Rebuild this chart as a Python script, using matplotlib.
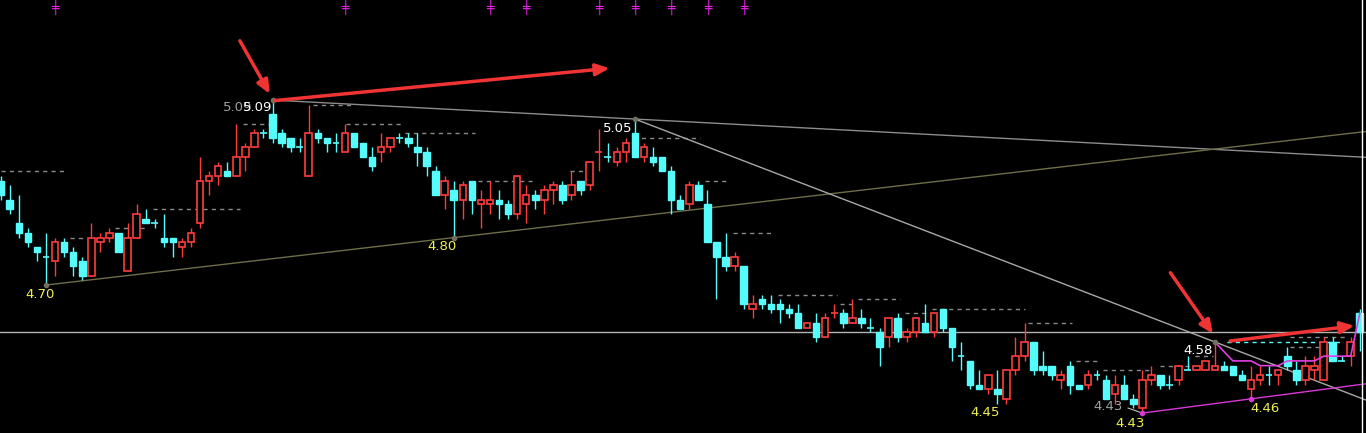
import numpy as np
import matplotlib
matplotlib.use('Agg')
import matplotlib.pyplot as plt
from matplotlib.patches import Rectangle

# daily candles (index 0 = leftmost, partly cut)
opens = [4.92, 4.88, 4.83, 4.81, 4.78, 4.76, 4.75, 4.79, 4.77, 4.75,
         4.72, 4.79, 4.80, 4.81, 4.73, 4.80, 4.84, 4.83, 4.80, 4.80,
         4.78, 4.79, 4.83, 4.92, 4.93, 4.94, 4.93, 4.97, 4.99, 5.02,
         5.06, 5.02, 5.01, 4.99, 4.93, 5.02, 5.01, 5.00, 4.98, 5.02,
         5.00, 4.97, 4.98, 4.99, 5.01, 5.01, 4.99, 4.98, 4.94, 4.89,
         4.90, 4.88, 4.92, 4.87, 4.87, 4.88, 4.87, 4.85, 4.87, 4.89,
         4.88, 4.90, 4.91, 4.89, 4.92, 4.91, 4.98, 4.97, 4.96, 4.98,
         5.02, 4.97, 4.97, 4.97, 4.94, 4.88, 4.87, 4.91, 4.87, 4.79,
         4.76, 4.74, 4.74, 4.65, 4.67, 4.66, 4.66, 4.65, 4.64, 4.61,
         4.62, 4.59, 4.64, 4.64, 4.62, 4.63, 4.61, 4.60, 4.59, 4.63,
         4.59, 4.60, 4.62, 4.60, 4.65, 4.61, 4.55, 4.54, 4.49, 4.48,
         4.48, 4.46, 4.52, 4.55, 4.58, 4.53, 4.53, 4.50, 4.53, 4.49,
         4.49, 4.51, 4.50, 4.47, 4.49, 4.46, 4.44, 4.50, 4.51, 4.49,
         4.50, 4.52, 4.52, 4.52, 4.52, 4.53, 4.53, 4.51, 4.48, 4.50,
         4.51, 4.51, 4.55, 4.52, 4.50, 4.52, 4.50, 4.58, 4.54, 4.55,
         4.64]
highs = [4.93, 4.91, 4.89, 4.82, 4.78, 4.81, 4.80, 4.80, 4.78, 4.76,
         4.83, 4.81, 4.82, 4.81, 4.83, 4.87, 4.86, 4.84, 4.85, 4.80,
         4.80, 4.82, 4.97, 4.94, 4.96, 4.96, 5.04, 5.00, 5.03, 5.03,
         5.09, 5.03, 5.01, 5.01, 5.08, 5.03, 5.01, 5.02, 5.04, 5.02,
         5.00, 4.99, 5.02, 5.01, 5.02, 5.02, 5.02, 4.99, 4.95, 4.93,
         4.92, 4.92, 4.92, 4.90, 4.92, 4.90, 4.88, 4.93, 4.91, 4.90,
         4.91, 4.92, 4.92, 4.94, 4.92, 4.96, 5.03, 5.00, 4.99, 5.01,
         5.05, 5.00, 4.99, 4.97, 4.95, 4.89, 4.92, 4.92, 4.90, 4.79,
         4.81, 4.77, 4.74, 4.68, 4.68, 4.68, 4.67, 4.66, 4.66, 4.62,
         4.64, 4.64, 4.66, 4.65, 4.67, 4.65, 4.63, 4.61, 4.63, 4.64,
         4.61, 4.63, 4.66, 4.64, 4.65, 4.61, 4.58, 4.54, 4.52, 4.51,
         4.52, 4.52, 4.59, 4.62, 4.58, 4.56, 4.53, 4.52, 4.54, 4.49,
         4.52, 4.52, 4.51, 4.51, 4.51, 4.47, 4.52, 4.53, 4.51, 4.51,
         4.53, 4.55, 4.53, 4.54, 4.58, 4.54, 4.53, 4.52, 4.53, 4.53,
         4.53, 4.52, 4.57, 4.54, 4.55, 4.55, 4.59, 4.59, 4.55, 4.59,
         4.65]
lows = [4.88, 4.85, 4.80, 4.78, 4.75, 4.70, 4.72, 4.76, 4.72, 4.71,
        4.72, 4.77, 4.79, 4.77, 4.73, 4.80, 4.83, 4.82, 4.78, 4.76,
        4.76, 4.78, 4.82, 4.89, 4.91, 4.93, 4.93, 4.94, 4.99, 5.01,
        5.00, 4.99, 4.98, 4.98, 4.93, 5.00, 4.98, 4.98, 4.98, 4.99,
        4.97, 4.94, 4.96, 4.98, 5.00, 4.99, 4.95, 4.93, 4.89, 4.86,
        4.80, 4.84, 4.85, 4.82, 4.85, 4.84, 4.84, 4.84, 4.83, 4.86,
        4.85, 4.87, 4.87, 4.88, 4.89, 4.90, 4.94, 4.96, 4.95, 4.96,
        4.97, 4.96, 4.95, 4.94, 4.85, 4.86, 4.86, 4.88, 4.79, 4.67,
        4.73, 4.73, 4.65, 4.63, 4.65, 4.64, 4.62, 4.63, 4.61, 4.61,
        4.58, 4.59, 4.63, 4.61, 4.62, 4.61, 4.60, 4.53, 4.57, 4.58,
        4.58, 4.59, 4.60, 4.59, 4.60, 4.54, 4.52, 4.48, 4.48, 4.47,
        4.45, 4.45, 4.51, 4.54, 4.51, 4.51, 4.50, 4.48, 4.47, 4.48,
        4.48, 4.50, 4.46, 4.45, 4.46, 4.44, 4.43, 4.49, 4.48, 4.48,
        4.49, 4.52, 4.52, 4.52, 4.52, 4.52, 4.51, 4.50, 4.46, 4.49,
        4.49, 4.49, 4.52, 4.49, 4.49, 4.50, 4.50, 4.54, 4.54, 4.53,
        4.56]
closes = [4.89, 4.86, 4.81, 4.79, 4.77, 4.76, 4.79, 4.77, 4.74, 4.72,
          4.80, 4.80, 4.81, 4.77, 4.80, 4.85, 4.83, 4.83, 4.79, 4.79,
          4.79, 4.81, 4.92, 4.93, 4.95, 4.93, 4.97, 4.99, 5.02, 5.02,
          5.01, 5.00, 4.99, 4.99, 5.02, 5.01, 5.00, 5.00, 5.02, 4.99,
          4.97, 4.95, 4.99, 5.01, 5.01, 5.00, 4.98, 4.95, 4.89, 4.92,
          4.88, 4.91, 4.88, 4.88, 4.88, 4.87, 4.85, 4.93, 4.89, 4.88,
          4.90, 4.91, 4.88, 4.91, 4.90, 4.96, 4.98, 4.97, 4.98, 5.00,
          4.97, 4.99, 4.96, 4.94, 4.88, 4.86, 4.91, 4.88, 4.79, 4.76,
          4.74, 4.76, 4.66, 4.66, 4.66, 4.65, 4.65, 4.64, 4.61, 4.62,
          4.59, 4.63, 4.64, 4.62, 4.63, 4.62, 4.61, 4.57, 4.63, 4.59,
          4.60, 4.63, 4.60, 4.64, 4.61, 4.57, 4.55, 4.49, 4.48, 4.51,
          4.47, 4.52, 4.55, 4.58, 4.52, 4.52, 4.51, 4.51, 4.49, 4.48,
          4.51, 4.51, 4.46, 4.49, 4.46, 4.45, 4.50, 4.51, 4.49, 4.49,
          4.53, 4.52, 4.53, 4.54, 4.53, 4.52, 4.51, 4.50, 4.50, 4.51,
          4.51, 4.52, 4.53, 4.50, 4.53, 4.53, 4.58, 4.54, 4.54, 4.58,
          4.60]

# cost line that starts at the 4.58 high
cost_start = 134
cost_line = [4.58, 4.56, 4.54, 4.54, 4.54, 4.53, 4.53, 4.53, 4.54,
             4.54, 4.54, 4.54, 4.55, 4.55, 4.55, 4.55, 4.64]

# dashed level marks: (first index, last index, price)
levels = [(0, 7.3, 4.94), (7.7, 9.3, 4.80), (12.6, 16.1, 4.82),
          (16.8, 26.4, 4.86), (26.7, 29.7, 5.04), (34.5, 38.9, 5.08),
          (38.1, 44.3, 5.04), (44.6, 52.4, 5.02), (52.7, 59.0, 4.92),
          (62.8, 65.0, 4.94), (69.8, 77.2, 5.01), (77.7, 80.3, 4.92),
          (80.8, 85.2, 4.81), (85.8, 92.3, 4.68), (92.6, 94.0, 4.66),
          (94.6, 99.3, 4.67), (99.8, 102.6, 4.64), (102.8, 113.0, 4.65),
          (113.4, 118.2, 4.62), (118.7, 121.3, 4.54), (121.7, 126.9, 4.52),
          (128.0, 131.8, 4.53), (131.8, 133.8, 4.55), (142.3, 148.4, 4.59),
          (142.3, 146.7, 4.57)]
cyan_level = (135.4, 147.8, 4.58)

# signal markers along the top edge
signal_idx = [6, 38, 54, 58, 66, 70, 74, 78, 82]
signal_price = 5.2865

# swing labels: (index, price, text, colour, dx px, dy px, ha)
swing_labels = [(5, 4.70, '4.70', '#f0f050', -6, -9, 'center'),
                (30, 5.09, '5.09', '#a0a0a0', -20, -7, 'right'),
                (30, 5.09, '5.09', '#ffffff', 0, -7, 'right'),
                (50, 4.80, '4.80', '#f0f050', -12, -9, 'center'),
                (70, 5.05, '5.05', '#ffffff', -2, -9, 'right'),
                (110, 4.45, '4.45', '#f0f050', -12, -9, 'center'),
                (126, 4.43, '4.43', '#a0a0a0', -20, 7, 'right'),
                (126, 4.43, '4.43', '#f0f050', -12, -10, 'center'),
                (134, 4.58, '4.58', '#ffffff', -2, -9, 'right'),
                (138, 4.46, '4.46', '#f0f050', 14, -10, 'center')]

# hand-drawn red arrows: (x0, p0) -> (x1, p1)
arrows = [((26.4, 5.215), (29.7, 5.103)),
          ((30.3, 5.089), (67.2, 5.157)),
          ((129.1, 4.726), (133.8, 4.597)),
          ((135.7, 4.582), (149.4, 4.614))]

up_col = '#ff3c3c'
down_col = '#54fcfc'
bg = 'black'

n = len(opens)

fig = plt.figure(figsize=(13.66, 4.33), dpi=100, facecolor=bg)
ax = fig.add_axes([0, 0, 1, 1])
ax.set_facecolor(bg)

# dashed levels first so candles sit on top
for x0, x1, p in levels:
    ax.hlines(p, x0, x1, colors='#8a8a8a', linestyles=(0, (3, 3)), lw=1, zorder=1)
ax.hlines(cyan_level[2], cyan_level[0], cyan_level[1], colors=down_col,
          linestyles=(0, (3, 3)), lw=1, zorder=1)

# trend lines through the swing points
def trend(i0, p0, i1, p1, color, lw=1.0):
    slope = (p1 - p0) / (i1 - i0)
    xs = np.array([i0, n + 1])
    ax.plot(xs, p0 + slope * (xs - i0), color=color, lw=lw, zorder=1)

trend(30, highs[30], 70, highs[70], '#8c8c8c')
trend(5, lows[5], 50, lows[50], '#6e6e48')
trend(70, highs[70], 134, highs[134], '#a8a8a8')
trend(126, lows[126], 138, lows[138], '#d838d8')

# current price line
ax.axhline(closes[-1], color='#b4b4b4', lw=1, zorder=1)

w = 0.36
for i in range(n):
    o, h, l, c = opens[i], highs[i], lows[i], closes[i]
    if c > o:
        col = up_col
    elif c < o:
        col = down_col
    else:
        col = up_col if (i > 0 and c > closes[i - 1]) else down_col
    ax.vlines(i, l, h, color=col, lw=1, zorder=2)
    if c == o:
        ax.hlines(c, i - w, i + w, color=col, lw=1.2, zorder=3)
    elif c > o:
        ax.add_patch(Rectangle((i - w, o), 2 * w, c - o, facecolor=bg,
                               edgecolor=col, lw=1.2, zorder=3))
    else:
        ax.add_patch(Rectangle((i - w, c), 2 * w, o - c, facecolor=col,
                               edgecolor=col, lw=1, zorder=3))

ax.plot(np.arange(cost_start, cost_start + len(cost_line)), cost_line,
        color='#e040e0', lw=1.2, zorder=4)

# pivot dots
for i, p in [(5, lows[5]), (50, lows[50]), (30, highs[30]), (70, highs[70]),
             (134, highs[134])]:
    ax.plot(i, p, 'o', color='#707060', ms=3, zorder=5)
for i, p in [(126, lows[126]), (138, lows[138])]:
    ax.plot(i, p, 'o', color='#d838d8', ms=3, zorder=5)

for i, p, txt, col, dx, dy, ha in swing_labels:
    ax.annotate(txt, (i, p), xytext=(dx, dy), textcoords='offset pixels',
                color=col, fontsize=9.5, ha=ha, va='center', zorder=6)
ax.annotate('', xy=(126, lows[126]), xytext=(-17, 6),
            textcoords='offset pixels',
            arrowprops=dict(arrowstyle='-', color='#c0c0c0', lw=0.8))

for (x0, p0), (x1, p1) in arrows:
    ax.annotate('', xy=(x1, p1), xytext=(x0, p0),
                arrowprops=dict(arrowstyle='-|>,head_length=0.8,head_width=0.35',
                                color='#f03434', lw=2.5, shrinkA=0, shrinkB=0),
                zorder=7)

# top signal marks
for i in signal_idx:
    ax.text(i, signal_price, '\u256a', color='#f020f0', fontsize=9,
            fontweight='bold', ha='center', va='center',
            family='DejaVu Sans', zorder=6)

ax.axvline(n - 0.75, color='white', lw=1, zorder=6)

ax.set_xlim(-0.077, 150.69)
ax.set_ylim(4.388, 5.301)
ax.axis('off')

fig.savefig('out.png', dpi=100, facecolor=bg)
